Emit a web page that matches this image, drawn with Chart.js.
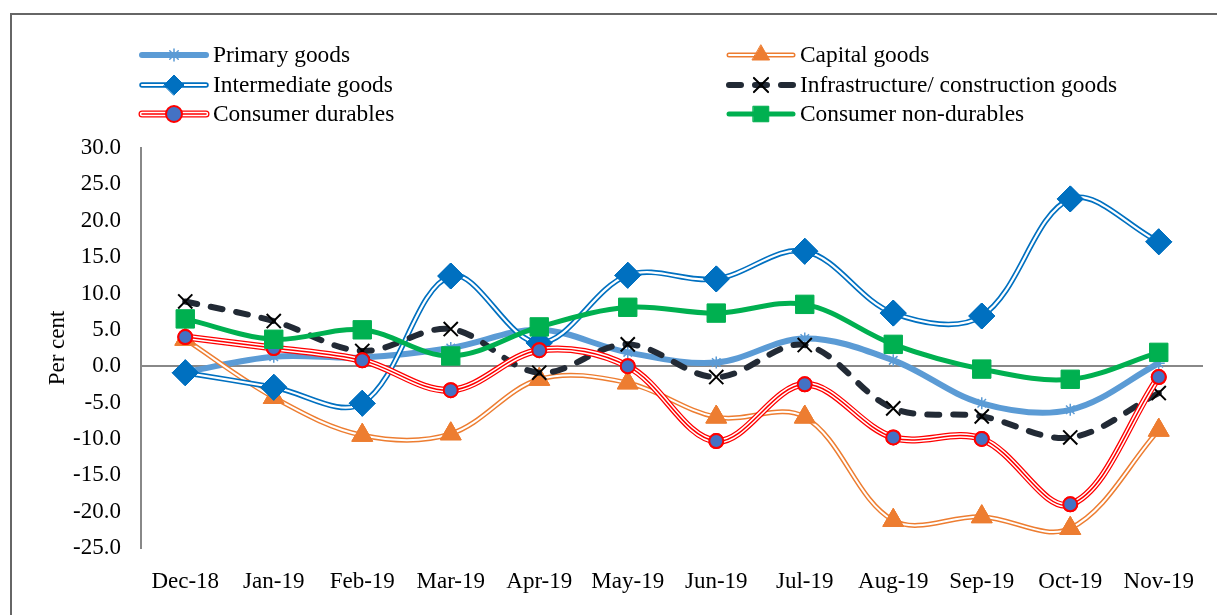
<!DOCTYPE html>
<html>
<head>
<meta charset="utf-8">
<script src="https://cdn.jsdelivr.net/npm/chart.js@4/dist/chart.umd.min.js"></script>
<style>
  html, body { margin: 0; padding: 0; background: #fff; }
  #wrap { width: 1217px; height: 615px; position: relative; }
</style>
</head>
<body>
<div id="wrap"><canvas id="Chart" width="1217" height="615"></canvas></div>
<script>
const months = ['Dec-18', 'Jan-19', 'Feb-19', 'Mar-19', 'Apr-19', 'May-19', 'Jun-19', 'Jul-19', 'Aug-19', 'Sep-19', 'Oct-19', 'Nov-19'];

const primary = [-0.8, 1.3, 1.2, 2.5, 5.0, 1.9, 0.5, 3.8, 0.8, -5.1, -6.0, 0.4];
const capital = [3.7, -4.3, -9.5, -9.3, -1.8, -2.3, -7.0, -7.0, -21.2, -20.7, -22.3, -8.8];
const intermediate = [-0.9, -2.9, -5.1, 12.4, 3.2, 12.5, 12.0, 15.8, 7.3, 6.9, 23.0, 17.1];
const infra = [8.9, 6.2, 2.1, 5.1, -0.9, 3.0, -1.5, 2.9, -5.8, -6.9, -9.8, -3.7];
const durables = [4.0, 2.5, 0.8, -3.3, 2.2, 0.0, -10.3, -2.5, -9.8, -10.0, -19.0, -1.5];
const nonDurables = [6.5, 3.7, 5.0, 1.4, 5.4, 8.1, 7.3, 8.5, 3.0, -0.4, -1.8, 1.9];

const yMin = -25, yMax = 30, yStep = 5;

const serif = "'Liberation Serif', 'Times New Roman', serif";

// draws the white / coloured stripes inside a line (excel style double lines)
function strokeCurve(ctx, pts) {
  ctx.beginPath();
  ctx.moveTo(pts[0].x, pts[0].y);
  for (let i = 1; i < pts.length; i++) {
    const a = pts[i - 1], b = pts[i];
    if (a.cp2x !== undefined && b.cp1x !== undefined) {
      ctx.bezierCurveTo(a.cp2x, a.cp2y, b.cp1x, b.cp1y, b.x, b.y);
    } else {
      ctx.lineTo(b.x, b.y);
    }
  }
  ctx.stroke();
}

const stripes = {
  id: 'stripes',
  afterDatasetDraw(chart, args) {
    const ds = chart.data.datasets[args.index];
    if (!ds.inner) return;
    const ctx = chart.ctx;
    const pts = args.meta.data;
    ctx.save();
    ctx.lineJoin = 'round';
    ds.inner.forEach(s => {
      ctx.strokeStyle = s[0];
      ctx.lineWidth = s[1];
      strokeCurve(ctx, pts);
    });
    ctx.restore();
    pts.forEach(p => p.draw(ctx, chart.chartArea));
  }
};

const frame = {
  id: 'frame',
  beforeDraw(chart) {
    const ctx = chart.ctx;
    ctx.save();
    ctx.strokeStyle = '#666';
    ctx.lineWidth = 2;
    ctx.beginPath();
    ctx.moveTo(11, 615);
    ctx.lineTo(11, 14);
    ctx.lineTo(1217, 14);
    ctx.stroke();
    ctx.restore();
  }
};

const legendBox = {
  id: 'legendBox',
  afterDraw(chart) {
    const ctx = chart.ctx;
    const cols = [140, 727];
    const rows = [55, 85, 114];
    chart.data.datasets.forEach((ds, i) => {
      const x = cols[i % 2], y = rows[Math.floor(i / 2)];
      ctx.save();
      ctx.strokeStyle = ds.borderColor;
      ctx.lineWidth = ds.borderWidth;
      ctx.lineCap = ds.borderCapStyle || 'round';
      ctx.setLineDash(ds.borderDash || []);
      ctx.beginPath();
      ctx.moveTo(x + 2, y);
      ctx.lineTo(x + 66, y);
      ctx.stroke();
      ctx.setLineDash([]);
      (ds.inner || []).forEach(s => {
        ctx.strokeStyle = s[0];
        ctx.lineWidth = s[1];
        ctx.beginPath();
        ctx.moveTo(x + 2, y);
        ctx.lineTo(x + 66, y);
        ctx.stroke();
      });
      ctx.fillStyle = ds.pointBackgroundColor;
      ctx.strokeStyle = ds.pointBorderColor;
      ctx.lineWidth = ds.pointBorderWidth;
      if (Chart.helpers && Chart.helpers.drawPoint) {
        Chart.helpers.drawPoint(ctx, {
          pointStyle: ds.pointStyle,
          radius: ds.legendRadius || ds.pointRadius,
          borderWidth: ds.pointBorderWidth,
          rotation: 0
        }, x + 34, y);
      }
      ctx.fillStyle = '#000';
      ctx.font = '23.4px ' + serif;
      ctx.textBaseline = 'middle';
      ctx.fillText(ds.label, x + 73, y + 1);
      ctx.restore();
    });
  }
};

const ctx = document.getElementById('Chart');

new Chart(ctx, {
  type: 'line',
  data: {
    labels: months,
    datasets: [{
      label: 'Primary goods',
      data: primary,
      borderColor: '#5B9BD5',
      borderWidth: 6,
      pointStyle: 'star',
      pointRadius: 6,
      pointBackgroundColor: '#5B9BD5',
      pointBorderColor: '#5B9BD5',
      pointBorderWidth: 1.5,
      order: 6
    }, {
      label: 'Capital goods',
      data: capital,
      borderColor: '#ED7D31',
      borderWidth: 5,
      inner: [['#fff', 2]],
      pointStyle: 'triangle',
      pointRadius: 12,
      legendRadius: 10,
      pointBackgroundColor: '#ED7D31',
      pointBorderColor: '#ED7D31',
      pointBorderWidth: 1,
      order: 5
    }, {
      label: 'Intermediate goods',
      data: intermediate,
      borderColor: '#0070C0',
      borderWidth: 5.5,
      inner: [['#fff', 2.2]],
      pointStyle: 'rectRot',
      pointRadius: 13,
      legendRadius: 10,
      pointBackgroundColor: '#0070C0',
      pointBorderColor: '#0070C0',
      pointBorderWidth: 1,
      order: 4
    }, {
      label: 'Infrastructure/ construction goods',
      data: infra,
      borderColor: '#222A35',
      borderWidth: 6,
      borderDash: [12, 14],
      borderCapStyle: 'round',
      pointStyle: 'crossRot',
      pointRadius: 10,
      pointBackgroundColor: '#000',
      pointBorderColor: '#000',
      pointBorderWidth: 2,
      order: 3
    }, {
      label: 'Consumer durables',
      data: durables,
      borderColor: '#FF0000',
      borderWidth: 7,
      inner: [['#fff', 4.5], ['#FF0000', 1.5]],
      pointStyle: 'circle',
      pointRadius: 7,
      legendRadius: 8,
      pointBackgroundColor: '#4472C4',
      pointBorderColor: '#FF0000',
      pointBorderWidth: 2,
      order: 2
    }, {
      label: 'Consumer non-durables',
      data: nonDurables,
      borderColor: '#00B050',
      borderWidth: 5,
      pointStyle: 'rect',
      pointRadius: 13,
      legendRadius: 11,
      pointBackgroundColor: '#00B050',
      pointBorderColor: '#00B050',
      pointBorderWidth: 1,
      order: 1
    }]
  },
  options: {
    responsive: false,
    animation: false,
    devicePixelRatio: 1,
    layout: { padding: { top: 148, right: 8, left: 0, bottom: 0 } },
    elements: { line: { tension: 0.35, fill: false } },
    plugins: {
      legend: { display: false },
      tooltip: { enabled: false }
    },
    scales: {
      x: {
        offset: true,
        grid: { display: false },
        border: { display: false },
        ticks: { color: '#000', font: { family: serif, size: 23 }, padding: 12, maxRotation: 0 },
        afterFit(scale) { scale.height = 67; }
      },
      y: {
        min: yMin,
        max: yMax,
        ticks: {
          stepSize: yStep,
          color: '#000',
          font: { family: serif, size: 23 },
          padding: 20,
          callback: v => v.toFixed(1)
        },
        grid: {
          drawTicks: false,
          lineWidth: 2,
          color: c => (c.tick && c.tick.value === 0 ? '#888' : 'rgba(0,0,0,0)')
        },
        border: { display: true, color: '#888', width: 2 },
        title: {
          display: true,
          text: 'Per cent',
          color: '#000',
          font: { family: serif, size: 23 },
          padding: { top: 44, bottom: 0 }
        },
        afterFit(scale) { scale.width = 141; }
      }
    }
  },
  plugins: [frame, stripes, legendBox]
});
</script>
</body>
</html>
